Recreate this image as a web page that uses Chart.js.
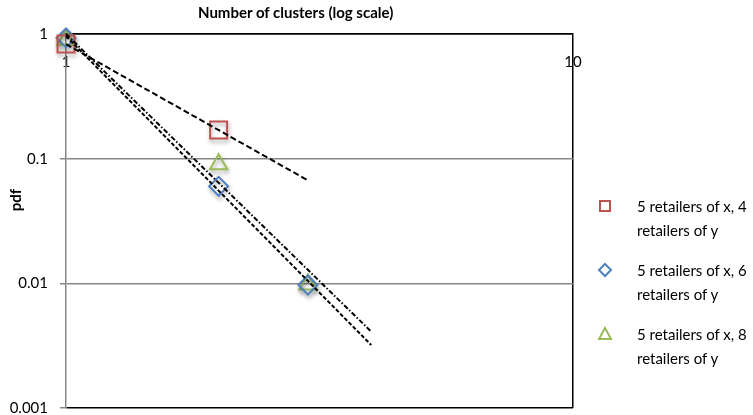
<!DOCTYPE html>
<html>
<head>
<meta charset="utf-8">
<script src="https://cdn.jsdelivr.net/npm/chart.js@4/dist/chart.umd.min.js"></script>
<style>
  body { margin: 0; background: #fff; font-family: Lato, "Open Sans", sans-serif; }
  #wrap { position: relative; width: 753px; height: 415px; }
  #xtitle { position: absolute; left: 198px; top: 3px; font-size: 15px; font-weight: bold; color: #000; white-space: nowrap; }
  #ytitle { position: absolute; left: 0px; top: 190px; width: 30px; height: 20px; font-size: 15px; font-weight: bold;
            transform: rotate(-90deg); text-align: center; line-height: 20px; }
  .leg { position: absolute; left: 596px; width: 160px; font-size: 15px; line-height: 24px; color: #000; }
  .leg svg { position: absolute; left: 0; top: 4px; }
  .leg span { position: absolute; left: 41px; top: 0; width: 120px; }
</style>
</head>
<body>
<div id="wrap">
  <canvas id="chart" width="753" height="415"></canvas>
  <div id="xtitle">Number of clusters (log scale)</div>
  <div id="ytitle">pdf</div>
  <div id="legend"></div>
</div>
<script>
// values
const clusters = [1, 2, 3];
const pdf4 = [0.83, 0.17];
const pdf6 = [0.93, 0.06, 0.0097];
const pdf8 = [0.90, 0.09, 0.0098];

// trend line end points (power fits as drawn)
const trend4X = [1, 3];
const trend4Y = [0.83, 0.067];
const trend6X = [1, 4];
const trend6Y = [0.96, 0.0032];
const trend8X = [1, 4];
const trend8Y = [1.0, 0.0041];

const xTicks = [1, 10];
const yTicks = [0.001, 0.01, 0.1, 1];

const seriesNames = ['5 retailers of x, 4 retailers of y', '5 retailers of x, 6 retailers of y', '5 retailers of x, 8 retailers of y'];
const RED = '#C0504D', BLUE = '#4F81BD', GREEN = '#9BBB59';

function pts(xs, ys) {
  return ys.map((y, i) => ({ x: xs[i], y: y }));
}

const shadow = {
  id: 'shadow',
  beforeDatasetDraw(chart, args) {
    if (!chart.data.datasets[args.index].shadow) return;
    const ctx = chart.ctx;
    ctx.save();
    ctx.shadowColor = 'rgba(0,0,0,0.35)';
    ctx.shadowBlur = 4;
    ctx.shadowOffsetX = 1;
    ctx.shadowOffsetY = 3;
  },
  afterDatasetDraw(chart, args) {
    if (!chart.data.datasets[args.index].shadow) return;
    chart.ctx.restore();
  }
};

const trend = (xs, ys, dash) => ({
  data: pts(xs, ys),
  showLine: true,
  borderColor: '#000',
  borderWidth: 2,
  borderDash: dash,
  pointRadius: 0,
  fill: false,
  clip: false
});

new Chart(document.getElementById('chart'), {
  type: 'scatter',
  plugins: [shadow],
  data: {
    datasets: [
      trend(trend4X, trend4Y, [6, 3]),
      trend(trend6X, trend6Y, [4, 2]),
      trend(trend8X, trend8Y, [5, 2, 1.5, 2]),
      { label: seriesNames[0], data: pts(clusters, pdf4), pointStyle: 'rect', pointRadius: 12,
        borderColor: RED, borderWidth: 2, backgroundColor: 'rgba(0,0,0,0)', shadow: true, clip: false },
      { label: seriesNames[1], data: pts(clusters, pdf6), pointStyle: 'rectRot', pointRadius: 9.5,
        borderColor: BLUE, borderWidth: 2, backgroundColor: 'rgba(0,0,0,0)', shadow: true, clip: false },
      { label: seriesNames[2], data: pts(clusters, pdf8), pointStyle: 'triangle', pointRadius: 10,
        borderColor: GREEN, borderWidth: 2, backgroundColor: 'rgba(0,0,0,0)', shadow: true, clip: false }
    ]
  },
  options: {
    responsive: false,
    animation: false,
    layout: { autoPadding: false, padding: { left: 0, right: 180, top: 0, bottom: 7 } },
    plugins: { legend: { display: false }, tooltip: { enabled: false } },
    scales: {
      x: {
        type: 'logarithmic',
        position: 'top',
        min: 1,
        max: 10,
        afterBuildTicks: s => { s.ticks = xTicks.map(v => ({ value: v })); },
        afterFit: s => { s.height = 34; s.paddingLeft = 0; s.paddingRight = 0; },
        ticks: {
          mirror: true,
          padding: 19,
          color: '#000',
          font: { family: 'Lato', size: 15 },
          callback: v => String(v)
        },
        grid: {
          drawTicks: false,
          lineWidth: 1.5,
          color: c => (c.tick && c.tick.value === 10) ? '#000' : 'rgba(0,0,0,0)'
        },
        border: { color: '#000', width: 1.5 }
      },
      y: {
        type: 'logarithmic',
        min: 0.001,
        max: 1,
        afterBuildTicks: s => { s.ticks = yTicks.map(v => ({ value: v })); },
        afterFit: s => { s.width = 66; s.paddingTop = 0; s.paddingBottom = 0; },
        ticks: {
          padding: 12,
          color: '#000',
          font: { family: 'Lato', size: 15 },
          callback: v => String(v)
        },
        grid: {
          tickLength: 6,
          tickColor: '#868686',
          lineWidth: 1.5,
          color: c => (c.tick && (c.tick.value === 1 || c.tick.value === 0.001)) ? '#000' : '#868686'
        },
        border: { color: '#868686', width: 1.5 }
      }
    }
  }
});

// legend
const legend = document.getElementById('legend');
const markers = [
  '<svg width="18" height="16"><rect x="4" y="3" width="10" height="10" fill="none" stroke="' + RED + '" stroke-width="2"/></svg>',
  '<svg width="18" height="16"><polygon points="9,2 15,8 9,14 3,8" fill="none" stroke="' + BLUE + '" stroke-width="2"/></svg>',
  '<svg width="18" height="16"><polygon points="9,2 15,13 3,13" fill="none" stroke="' + GREEN + '" stroke-width="2"/></svg>'
];
const legendTops = [194, 258, 322];
seriesNames.forEach((name, i) => {
  const d = document.createElement('div');
  d.className = 'leg';
  d.style.top = legendTops[i] + 'px';
  d.innerHTML = markers[i] + '<span>' + name + '</span>';
  legend.appendChild(d);
});
</script>
</body>
</html>
